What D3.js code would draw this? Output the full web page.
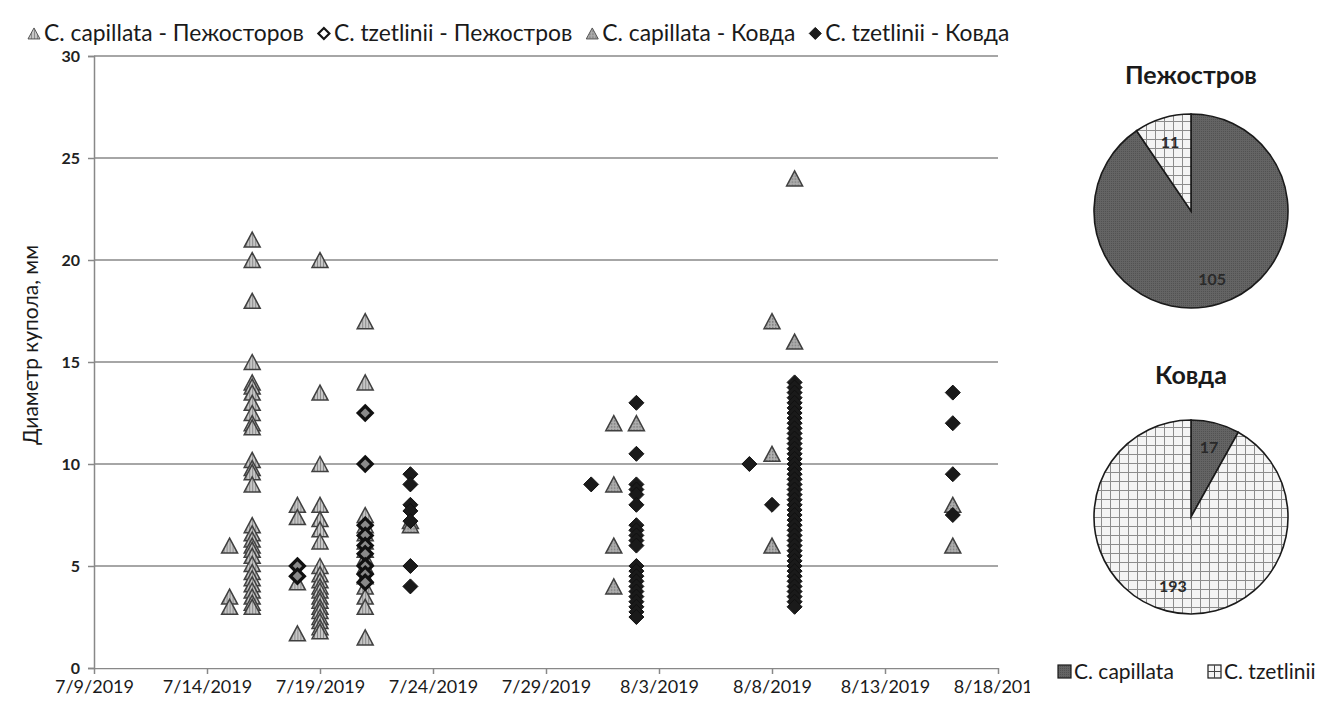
<!DOCTYPE html>
<html><head><meta charset="utf-8">
<script src="https://cdn.jsdelivr.net/npm/d3@7"></script>
<style>body{margin:0;background:#fff;} svg{display:block;font-family:Lato,"Open Sans",sans-serif;}</style>
</head><body>
<svg id="c" width="1333" height="704"></svg>
<script>
// ---------- data ----------
const xTickLabels = ["7/9/2019","7/14/2019","7/19/2019","7/24/2019","7/29/2019","8/3/2019","8/8/2019","8/13/2019","8/18/2019"];
const yTickValues = [0,5,10,15,20,25,30];
const seriesNames = ["C. capillata - Пежосторов","C. tzetlinii - Пежостров","C. capillata - Ковда","C. tzetlinii - Ковда"];

// [date, values measured on that date]
const pezhCapillata = [
  ["2019-07-15",[6,3.5,3]],
  ["2019-07-16",[21,20,18,15,14,13.8,13.5,13,12.5,12,11.8,10.2,9.8,9.6,9,7,6.6,6.3,6,5.8,5.5,5.1,4.7,4.4,4.1,3.8,3.5,3.2,3]],
  ["2019-07-18",[8,7.4,4.2,1.7]],
  ["2019-07-19",[20,13.5,10,8,7.3,6.8,6.2,5,4.6,4.3,4,3.8,3.5,3.3,3,2.8,2.5,2.3,2,1.8]],
  ["2019-07-21",[17,14,7.5,7,6.6,6.2,5.8,5.4,5,4.5,4,3.5,3,1.5]]
];
const pezhTzetlinii = [
  ["2019-07-18",[5,4.5]],
  ["2019-07-21",[12.5,10,7,6.5,6,5.6,5,4.6,4.2]]
];
const kovdaCapillata = [
  ["2019-07-23",[7.2,7]],
  ["2019-08-01",[12,9,6,4]],
  ["2019-08-02",[12]],
  ["2019-08-08",[17,10.5,6]],
  ["2019-08-09",[24,16]],
  ["2019-08-16",[8,6]]
];
const kovdaTzetlinii = [
  ["2019-07-23",[9.5,9,8,7.7,7.2,5,4]],
  ["2019-07-31",[9]],
  ["2019-08-02",[13,10.5,9,8.75,8.5,8,7,6.75,6.5,6.25,6,5,4.75,4.5,4.25,4,3.75,3.5,3.25,3,2.75,2.5]],
  ["2019-08-07",[10]],
  ["2019-08-08",[8]],
  ["2019-08-09",[14,13.75,13.5,13.25,13,12.75,12.5,12.25,12,11.75,11.5,11.25,11,10.75,10.5,10.25,10,9.75,9.5,9.25,9,8.75,8.5,8.25,8,7.75,7.5,7.25,7,6.75,6.5,6.25,6,5.75,5.5,5.25,5,4.75,4.5,4.25,4,3.75,3.5,3.25,3]],
  ["2019-08-16",[13.5,12,9.5,7.5]]
];

const pieSpecies = ["C. capillata","C. tzetlinii"];
const pieTitles = ["Пежостров","Ковда"];
const piePezh = [105, 11];
const pieKovda = [17, 193];

// ---------- drawing ----------
const svg = d3.select("#c");
const parse = d3.timeParse("%Y-%m-%d");
const xTickDates = xTickLabels.map(s => { const [m,d,y] = s.split("/").map(Number); return new Date(y, m-1, d); });

const x = d3.scaleTime().domain([xTickDates[0], xTickDates[xTickDates.length-1]]).range([94, 998]);
const y = d3.scaleLinear().domain([0,30]).range([668, 56]);

const defs = svg.append("defs");
const p1 = defs.append("pattern").attr("id","hatchV").attr("width",3).attr("height",3).attr("patternUnits","userSpaceOnUse");
p1.append("rect").attr("width",3).attr("height",3).attr("fill","#c6c6c6");
p1.append("rect").attr("width",1).attr("height",3).attr("fill","#8a8a8a");
const p2 = defs.append("pattern").attr("id","dots").attr("width",3).attr("height",3).attr("patternUnits","userSpaceOnUse");
p2.append("rect").attr("width",3).attr("height",3).attr("fill","#b0b0b0");
p2.append("rect").attr("width",1.5).attr("height",1.5).attr("fill","#777");
const p3 = defs.append("pattern").attr("id","darkTex").attr("width",2).attr("height",2).attr("patternUnits","userSpaceOnUse");
p3.append("rect").attr("width",2).attr("height",2).attr("fill","#646464");
p3.append("rect").attr("width",1).attr("height",1).attr("fill","#525252");
const p4 = defs.append("pattern").attr("id","check").attr("width",9).attr("height",9).attr("patternUnits","userSpaceOnUse");
p4.append("rect").attr("width",9).attr("height",9).attr("fill","#f4f4f4");
p4.append("rect").attr("x",0).attr("y",0).attr("width",9).attr("height",1).attr("fill","#8c8c8c");
p4.append("rect").attr("x",0).attr("y",0).attr("width",1).attr("height",9).attr("fill","#8c8c8c");

defs.append("clipPath").attr("id","clipX").append("rect").attr("x",0).attr("y",0).attr("width",1030).attr("height",704);

// gridlines
svg.append("g").selectAll("line").data(yTickValues.filter(v=>v>0)).join("line")
  .attr("x1",94).attr("x2",998).attr("y1",d=>y(d)).attr("y2",d=>y(d))
  .attr("stroke","#888").attr("stroke-width",1.5);

// y axis
const yAx = svg.append("g").attr("transform","translate(94,0)")
  .call(d3.axisLeft(y).tickValues(yTickValues).tickSize(6).tickPadding(8));
yAx.select(".domain").attr("stroke","#888").attr("stroke-width",1.5);
yAx.selectAll(".tick line").attr("stroke","#888").attr("stroke-width",1.5);
yAx.selectAll("text").attr("font-size",16).attr("fill","#222").attr("font-family","Lato,sans-serif").attr("font-weight","bold");

// x axis
const xAx = svg.append("g").attr("transform","translate(0,668)").attr("clip-path","url(#clipX)")
  .call(d3.axisBottom(x).tickValues(xTickDates).tickFormat((d,i)=>xTickLabels[i]).tickSize(6).tickSizeOuter(0).tickPadding(6));
xAx.select(".domain").attr("stroke","#888").attr("stroke-width",1.5);
xAx.selectAll(".tick line").attr("stroke","#888").attr("stroke-width",1.5);
xAx.selectAll("text").attr("font-size",18).attr("fill","#1a1a1a").attr("font-family","Lato,sans-serif");

// y title
svg.append("text").attr("transform","translate(38,345) rotate(-90)").attr("text-anchor","middle")
  .attr("font-size",21).attr("fill","#1a1a1a").text("Диаметр купола, мм");

// markers
const triPath = (w,h) => `M0,${-h/2}L${w/2},${h/2}L${-w/2},${h/2}Z`;
const diaPath = (r) => `M0,${-r}L${r},0L0,${r}L${-r},0Z`;
const styles = [
  {path: triPath(16,15), fill:"url(#hatchV)", stroke:"#404040", sw:1.5},
  {path: diaPath(7), fill:"#8a8a8a", stroke:"#111", sw:3.2},
  {path: triPath(16,15), fill:"url(#dots)", stroke:"#404040", sw:1.5},
  {path: diaPath(7.5), fill:"#1a1a1a", stroke:"#111", sw:1}
];
const flat = s => s.flatMap(([d,vals]) => vals.map(v => ({date: parse(d), v})));
[pezhCapillata, pezhTzetlinii, kovdaCapillata, kovdaTzetlinii].forEach((ser, i) => {
  const st = styles[i];
  svg.append("g").selectAll("path").data(flat(ser)).join("path")
    .attr("d", st.path).attr("transform", d => `translate(${x(d.date)},${y(d.v)})`)
    .attr("fill", st.fill).attr("stroke", st.stroke).attr("stroke-width", st.sw).attr("stroke-linejoin","miter");
});

// top legend
const legSmall = [
  {path: triPath(12,11), fill:"url(#hatchV)", stroke:"#555", sw:1},
  {path: diaPath(5.5), fill:"#fff", stroke:"#151515", sw:2.2},
  {path: triPath(12,11), fill:"url(#dots)", stroke:"#555", sw:1},
  {path: diaPath(6), fill:"#1a1a1a", stroke:"#111", sw:1}
];
const leg = svg.append("g");
function drawLegend(fs){
  leg.selectAll("*").remove();
  let cx = 0;
  seriesNames.forEach((name,i) => {
    const st = legSmall[i];
    leg.append("path").attr("d",st.path).attr("transform",`translate(${cx+7},${-fs*0.33})`)
      .attr("fill",st.fill).attr("stroke",st.stroke).attr("stroke-width",st.sw);
    const t = leg.append("text").attr("x",cx+17).attr("y",0).attr("font-size",fs).attr("fill","#1a1a1a").text(name);
    cx += 17 + t.node().getComputedTextLength() + 13;
  });
  return cx - 13;
}
let fsL = 20;
let w = drawLegend(fsL);
fsL = fsL * (998 / w);
w = drawLegend(fsL);
leg.attr("transform",`translate(27,41)`);

// pies
const pie = d3.pie().sort(null);
const R = 97;
const arc = d3.arc().innerRadius(0).outerRadius(R);
const lblArc = d3.arc().innerRadius(R*0.74).outerRadius(R*0.74);
const pieFills = ["url(#darkTex)","url(#check)"];
[[piePezh, 1191, 211, 84], [pieKovda, 1191, 517, 384]].forEach(([vals, cx, cy, ty], k) => {
  svg.append("text").attr("x",cx).attr("y",ty).attr("text-anchor","middle")
    .attr("font-size",25).attr("font-weight","bold").attr("fill","#1a1a1a").text(pieTitles[k]);
  const g = svg.append("g").attr("transform",`translate(${cx},${cy})`);
  const arcs = pie(vals);
  g.selectAll("path").data(arcs).join("path").attr("d",arc)
    .attr("fill",(d,i)=>pieFills[i]).attr("stroke","#1a1a1a").attr("stroke-width",1.6);
  g.selectAll("text").data(arcs).join("text")
    .attr("transform",d=>`translate(${lblArc.centroid(d)})`)
    .attr("text-anchor","middle").attr("dy","0.35em")
    .attr("font-size",16).attr("font-weight","bold").attr("fill","#2a2a2a").text(d=>d.data);
});

// pie legend
const pl = svg.append("g");
[[1064, 0],[1214, 1]].forEach(([lx,i]) => {
  pl.append("rect").attr("x",lx-6).attr("y",665).attr("width",13).attr("height",13)
    .attr("fill",i===0?pieFills[0]:"#f4f4f4").attr("stroke","#1a1a1a").attr("stroke-width",1.2);
  if (i===1) {
    pl.append("line").attr("x1",lx-6).attr("x2",lx+7).attr("y1",671.5).attr("y2",671.5).attr("stroke","#444").attr("stroke-width",1);
    pl.append("line").attr("x1",lx+0.5).attr("x2",lx+0.5).attr("y1",665).attr("y2",678).attr("stroke","#444").attr("stroke-width",1);
  }
  pl.append("text").attr("x",lx+10).attr("y",679).attr("font-size",21).attr("fill","#1a1a1a").text(pieSpecies[i]);
});
</script>
</body></html>
